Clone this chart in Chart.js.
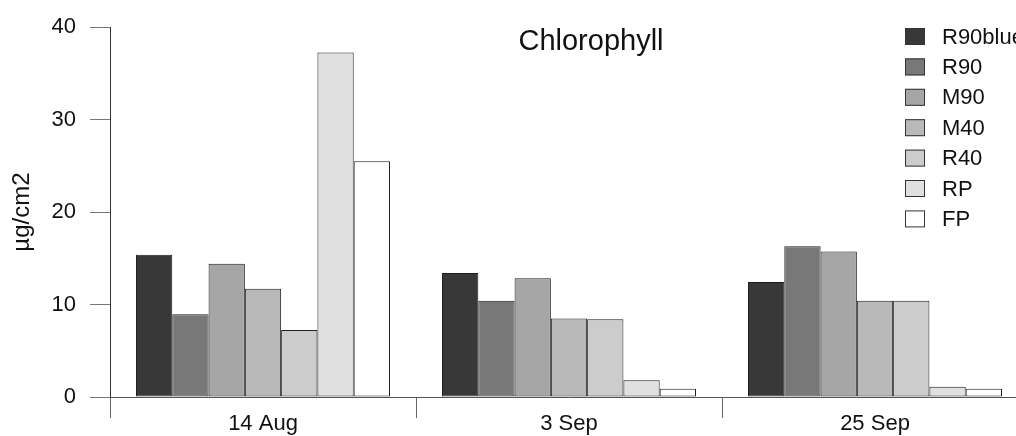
<!DOCTYPE html>
<html>
<head>
<meta charset="utf-8">
<script src="https://cdn.jsdelivr.net/npm/chart.js@4/dist/chart.umd.min.js"></script>
<style>
  html, body { margin: 0; padding: 0; background: #ffffff; overflow: hidden; }
  #wrap { position: absolute; left: 0; top: 0; width: 1040px; height: 436px; }
</style>
</head>
<body>
<div id="wrap"><canvas id="c" width="1040" height="436"></canvas></div>
<script>
const categories = ['14 Aug', '3 Sep', '25 Sep'];
const seriesNames = ['R90blue', 'R90', 'M90', 'M40', 'R40', 'RP', 'FP'];
const R90blue = [15.4, 13.4, 12.45];
const R90 = [8.95, 10.4, 16.3];
const M90 = [14.4, 12.85, 15.75];
const M40 = [11.7, 8.5, 10.4];
const R40 = [7.25, 8.4, 10.4];
const RP = [37.25, 1.8, 1.1];
const FP = [25.5, 0.9, 0.9];
const seriesValues = [R90blue, R90, M90, M40, R40, RP, FP];
const seriesColors = ['#383838', '#787878', '#a6a6a6', '#b9b9b9', '#cccccc', '#e0e0e0', '#ffffff'];
const yTicks = [0, 10, 20, 30, 40];
const chartTitle = 'Chlorophyll';
const yTitle = 'µg/cm2';

const FONT = "'Liberation Sans', Arial, Helvetica, sans-serif";

const datasets = seriesNames.map((name, i) => ({
  label: name,
  data: seriesValues[i],
  backgroundColor: seriesColors[i],
  borderColor: '#1e1e1e',
  borderWidth: 1,
  borderSkipped: false,
  categoryPercentage: 0.83,
  barPercentage: 1.0
}));

const overlayPlugin = {
  id: 'overlay',
  afterDraw(chart) {
    const ctx = chart.ctx;
    ctx.save();
    // title
    ctx.fillStyle = '#111';
    ctx.font = '29px ' + FONT;
    ctx.textAlign = 'center';
    ctx.textBaseline = 'alphabetic';
    ctx.fillText(chartTitle, 591, 50);
    // legend
    ctx.font = '22px ' + FONT;
    ctx.textAlign = 'left';
    ctx.textBaseline = 'middle';
    const rowStart = 36.5, rowStep = 30.4;
    chart.data.datasets.forEach((ds, i) => {
      const cy = rowStart + i * rowStep;
      ctx.fillStyle = ds.backgroundColor;
      ctx.fillRect(905, cy - 8.5, 20, 17);
      ctx.strokeStyle = '#333';
      ctx.lineWidth = 1;
      ctx.strokeRect(905.5, cy - 8, 19, 16);
      ctx.fillStyle = '#111';
      ctx.fillText(ds.label, 942, cy + 1);
    });
    ctx.restore();
  }
};

new Chart(document.getElementById('c'), {
  type: 'bar',
  data: { labels: categories, datasets },
  options: {
    responsive: false,
    animation: false,
    devicePixelRatio: 1,
    layout: { padding: { top: 23, right: 12, left: 0, bottom: 0 } },
    plugins: { legend: { display: false }, title: { display: false }, tooltip: { enabled: false } },
    scales: {
      x: {
        type: 'category',
        offset: true,
        grid: { display: true, offset: true, drawOnChartArea: false, drawTicks: true, tickLength: 21, color: '#666', lineWidth: 1 },
        border: { display: true, color: '#555', width: 1 },
        ticks: { font: { size: 22, family: FONT }, color: '#111', padding: -7 },
        afterFit: s => { s.height = 39; }
      },
      y: {
        min: 0,
        max: 40,
        afterBuildTicks: s => { s.ticks = yTicks.map(v => ({ value: v })); },
        ticks: { font: { size: 22, family: FONT }, color: '#111', padding: 14 },
        grid: { display: true, drawOnChartArea: false, drawTicks: true, tickLength: 20, color: '#777', lineWidth: 1 },
        border: { display: true, color: '#333', width: 1 },
        title: { display: true, text: yTitle, font: { size: 24, family: FONT }, color: '#111', padding: { top: 8, bottom: 0 } },
        afterFit: s => { s.width = 110; }
      }
    }
  },
  plugins: [overlayPlugin]
});
</script>
</body>
</html>
